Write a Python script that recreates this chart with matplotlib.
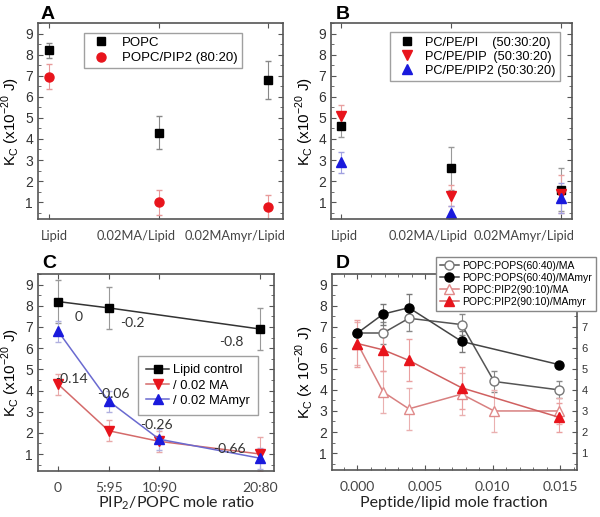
import numpy as np
import matplotlib.pyplot as plt
from matplotlib.ticker import MultipleLocator
from matplotlib.transforms import ScaledTranslation

# ---------------------------------------------------------------------------
# data
# ---------------------------------------------------------------------------
ab_labels = ['Lipid', '0.02MA/Lipid', '0.02MAmyr/Lipid']

a_popc = [8.2, 4.3, 6.8]
a_popc_err = [0.35, 0.8, 0.9]
a_pip2 = [6.95, 1.0, 0.75]
a_pip2_err = [0.6, 0.6, 0.6]

b_pi = [4.6, 2.6, 1.6]
b_pi_err = [0.5, 1.0, 1.0]
b_pip = [5.1, 1.3, 1.4]
b_pip_err = [0.5, 0.5, 0.9]
b_pip2 = [2.9, 0.5, 1.2]
b_pip2_err = [0.5, 0.3, 0.7]

c_ratio_ctrl = [0, 5, 20]
c_ctrl = [8.2, 7.9, 6.9]
c_ctrl_err = [1.0, 1.0, 1.0]
c_ratio = [0, 5, 10, 20]
c_ma = [4.3, 2.1, 1.6, 1.0]
c_ma_err = [0.5, 0.5, 0.5, 0.8]
c_myr = [6.8, 3.5, 1.7, 0.8]
c_myr_err = [0.5, 0.5, 0.5, 0.5]
c_ticks = [0, 5, 10, 20]
c_ticklabels = ['0', '5:95', '10:90', '20:80']
# slope annotations: (text, series, index, offset in points)
c_notes = [('0', 'ctrl', 0, (12, -11)),
           ('-0.2', 'ctrl', 1, (8, -11)),
           ('-0.8', 'ctrl', 2, (-30, -9)),
           ('-0.14', 'ma', 0, (-2, 4)),
           ('-0.06', 'myr', 1, (-8, 5)),
           ('-0.26', 'myr', 2, (-14, 10)),
           ('-0.66', 'myr', 3, (-34, 7))]

d_x = [0.0, 0.0019, 0.0038, 0.0077, 0.0101, 0.0149]
d_pops_ma = [6.7, 6.7, 7.4, 7.1, 4.4, 4.0]
d_pops_ma_err = [0.0, 0.5, 0.6, 0.5, 0.5, 0.4]
d_x_myr = [0.0, 0.0019, 0.0038, 0.0077, 0.0149]
d_pops_myr = [6.7, 7.6, 7.9, 6.3, 5.2]
d_pops_myr_err = [0.0, 0.5, 0.65, 0.5, 0.0]
d_pip2_ma = [6.2, 3.9, 3.1, 3.8, 3.0, 3.0]
d_pip2_ma_err = [1.0, 1.0, 1.0, 1.0, 1.0, 0.6]
d_pip2_myr = [6.2, 5.9, 5.4, 4.1, 2.7]
d_pip2_myr_err = [1.1, 1.0, 1.0, 1.0, 0.7]

# ---------------------------------------------------------------------------
plt.rcParams['font.family'] = ['Liberation Sans', 'DejaVu Sans']
cal = ['Lato', 'DejaVu Sans']   # calibri-like font for some labels

fig = plt.figure(figsize=(6.0, 5.17), dpi=100)
axA = fig.add_axes([0.063, 0.5764, 0.408, 0.379])
axB = fig.add_axes([0.552, 0.5764, 0.402, 0.379])
axC = fig.add_axes([0.063, 0.089, 0.393, 0.381])
axD = fig.add_axes([0.553, 0.091, 0.408, 0.379])

ylab = r'K$_\mathregular{C}$ (x10$^{\mathregular{-20}}$ J)'


def style(ax):
    ax.set_ylim(0.2, 9.5)
    ax.set_yticks(range(1, 10))
    ax.yaxis.set_minor_locator(MultipleLocator(0.5))
    ax.tick_params(which='both', direction='in', top=True, right=True,
                   color='#555555', labelsize=10)
    ax.tick_params(which='major', length=3.5)
    ax.tick_params(which='minor', length=2)
    for s in ax.spines.values():
        s.set_color('#555555')
        s.set_linewidth(1.2)
    for t in ax.get_yticklabels():
        t.set_color('#333333')


def leg(ax, conts, **kw):
    # legend from the marker/line part only, no error bars in the handles
    handles = [c[0] for c in conts]
    labels = [c.get_label() for c in conts]
    return ax.legend(handles, labels, fancybox=False, edgecolor='#888888', **kw)


# ---- A / B common
# the category labels sit a bit left of their ticks in the original
label_shift = {axA: [4, -16, -24], axB: [2, -17, -27]}   # points
for ax in (axA, axB):
    style(ax)
    ax.set_xticks(range(3))
    ax.set_xticklabels(ab_labels, family=cal, fontsize=9.3, color='#444444')
    ax.tick_params(axis='x', which='both', pad=8)
    ax.set_ylabel(ylab, fontsize=11, labelpad=2)
    for lab, dx in zip(ax.get_xticklabels(), label_shift[ax]):
        lab.set_transform(lab.get_transform()
                          + ScaledTranslation(dx / 72, 0, fig.dpi_scale_trans))

x = np.arange(3)
a1 = axA.errorbar(x, a_popc, yerr=a_popc_err, fmt='s', color='black', ms=6,
                  ecolor='#888888', elinewidth=0.8, capsize=2, label='POPC')
a2 = axA.errorbar(x, a_pip2, yerr=a_pip2_err, fmt='o', color='#e8141c', ms=6.5,
                  ecolor='#e89a9a', elinewidth=0.8, capsize=2,
                  label='POPC/PIP2 (80:20)')
axA.set_xlim(-0.1, 2.13)
leg(axA, [a1, a2], loc='upper center', bbox_to_anchor=(0.51, 0.985),
    fontsize=9.5, handletextpad=0.6, borderpad=0.3, labelspacing=0.25)

# ---- B
b1 = axB.errorbar(x, b_pi, yerr=b_pi_err, fmt='s', color='black', ms=6,
                  ecolor='#999999', elinewidth=0.8, capsize=2,
                  label='PC/PE/PI    (50:30:20)')
b2 = axB.errorbar(x, b_pip, yerr=b_pip_err, fmt='v', color='#e8141c', ms=7,
                  ecolor='#e8a0a0', elinewidth=0.8, capsize=2,
                  label='PC/PE/PIP  (50:30:20)')
b3 = axB.errorbar(x, b_pip2, yerr=b_pip2_err, fmt='^', color='#1a1adc', ms=7,
                  ecolor='#a0a0e0', elinewidth=0.8, capsize=2,
                  label='PC/PE/PIP2 (50:30:20)')
axB.set_xlim(-0.09, 2.1)
leg(axB, [b1, b2, b3], loc='upper right', bbox_to_anchor=(0.975, 0.985),
    fontsize=9.2, handletextpad=0.4, borderpad=0.35, labelspacing=0.15)

# ---- C
style(axC)
c1 = axC.errorbar(c_ratio_ctrl, c_ctrl, yerr=c_ctrl_err, fmt='-s', color='#333333',
                  mfc='black', mec='black', ms=5.5, lw=1.1, ecolor='#999999',
                  elinewidth=0.8, capsize=2, label='Lipid control')
c2 = axC.errorbar(c_ratio, c_ma, yerr=c_ma_err, fmt='-v', color='#d46a6a',
                  mfc='#e8141c', mec='#e8141c', ms=6.5, lw=1.1, ecolor='#e8a8a8',
                  elinewidth=0.8, capsize=2, label='/ 0.02 MA')
c3 = axC.errorbar(c_ratio, c_myr, yerr=c_myr_err, fmt='-^', color='#6a6ad0',
                  mfc='#1a1adc', mec='#1a1adc', ms=6.5, lw=1.1, ecolor='#b0b0e0',
                  elinewidth=0.8, capsize=2, label='/ 0.02 MAmyr')
series = {'ctrl': (c_ratio_ctrl, c_ctrl), 'ma': (c_ratio, c_ma),
          'myr': (c_ratio, c_myr)}
for txt, key, i, off in c_notes:
    xs, ys = series[key]
    axC.annotate(txt, (xs[i], ys[i]), xytext=off, textcoords='offset points',
                 fontsize=10, color='#333333', family=cal, ha='left', va='center')
axC.set_xlim(-2, 21.3)
axC.set_xticks(c_ticks)
axC.set_xticklabels(c_ticklabels, family=cal, fontsize=10, color='#444444')
axC.tick_params(axis='x', pad=8)
axC.set_xlabel(r'PIP$_\mathregular{2}$/POPC mole ratio', family=cal,
               fontsize=11.5, color='#222222', labelpad=2)
axC.xaxis.set_label_coords(0.59, -0.12)
axC.set_ylabel(ylab, fontsize=11, labelpad=2)
leg(axC, [c1, c2, c3], loc='center right', bbox_to_anchor=(0.96, 0.434),
    fontsize=9.3, handlelength=1.8, handletextpad=0.3, borderpad=0.6,
    labelspacing=0.25)

# ---- D
style(axD)
axD.tick_params(axis='y', which='both', labelright=True)
axD.tick_params(axis='y', labelsize=10)
for tick in axD.yaxis.get_major_ticks():
    tick.label1.set_color('#333333')
    tick.label2.set_color('#333333')
    tick.label2.set_fontsize(8)
# right-side labels 8 and 9 are covered by the legend in the original
for tick, v in zip(axD.yaxis.get_major_ticks(), axD.get_yticks()):
    if v >= 8:
        tick.label2.set_visible(False)
d1 = axD.errorbar(d_x, d_pops_ma, yerr=d_pops_ma_err, fmt='-o', color='#555555',
                  mfc='white', mec='#777777', ms=6.5, lw=1.1, ecolor='#888888',
                  elinewidth=0.8, capsize=2, label='POPC:POPS(60:40)/MA')
d2 = axD.errorbar(d_x_myr, d_pops_myr, yerr=d_pops_myr_err, fmt='-o',
                  color='#444444', mfc='black', mec='black', ms=6.5, lw=1.1,
                  ecolor='#777777', elinewidth=0.8, capsize=2,
                  label='POPC:POPS(60:40)/MAmyr')
d3 = axD.errorbar(d_x, d_pip2_ma, yerr=d_pip2_ma_err, fmt='-^', color='#d88080',
                  mfc='white', mec='#e08a8a', ms=7, lw=1.1, ecolor='#eab0b0',
                  elinewidth=0.8, capsize=2, label='POPC:PIP2(90:10)/MA')
d4 = axD.errorbar(d_x_myr, d_pip2_myr, yerr=d_pip2_myr_err, fmt='-^',
                  color='#d06060', mfc='#e8141c', mec='#e8141c', ms=7, lw=1.1,
                  ecolor='#eaa0a0', elinewidth=0.8, capsize=2,
                  label='POPC:PIP2(90:10)/MAmyr')
axD.set_xlim(-0.0019, 0.0162)
axD.set_xticks([0.0, 0.005, 0.010, 0.015])
axD.set_xticklabels(['0.000', '0.005', '0.010', '0.015'], family=cal,
                    fontsize=10, color='#444444')
axD.xaxis.set_minor_locator(MultipleLocator(0.001))
axD.tick_params(axis='x', pad=8)
axD.set_xlabel('Peptide/lipid mole fraction', family=cal, fontsize=11.5,
               color='#222222', labelpad=2)
axD.set_ylabel(r'K$_\mathregular{C}$ (x 10$^{\mathregular{-20}}$ J)',
               fontsize=11, labelpad=2)
legD = leg(axD, [d1, d2, d3, d4], loc='upper right',
           bbox_to_anchor=(1.1, 1.115), fontsize=7.5, framealpha=1,
           handlelength=1.8, handletextpad=0.3, borderpad=0.4,
           labelspacing=0.2)
legD.set_zorder(10)

# panel letters
for letter, (px, py) in [('A', (0.08, 0.972)), ('B', (0.572, 0.972)),
                         ('C', (0.082, 0.49)), ('D', (0.572, 0.49))]:
    fig.text(px, py, letter, fontsize=14, fontweight='bold', ha='center',
             va='center')

plt.savefig('out.png', dpi=100)
